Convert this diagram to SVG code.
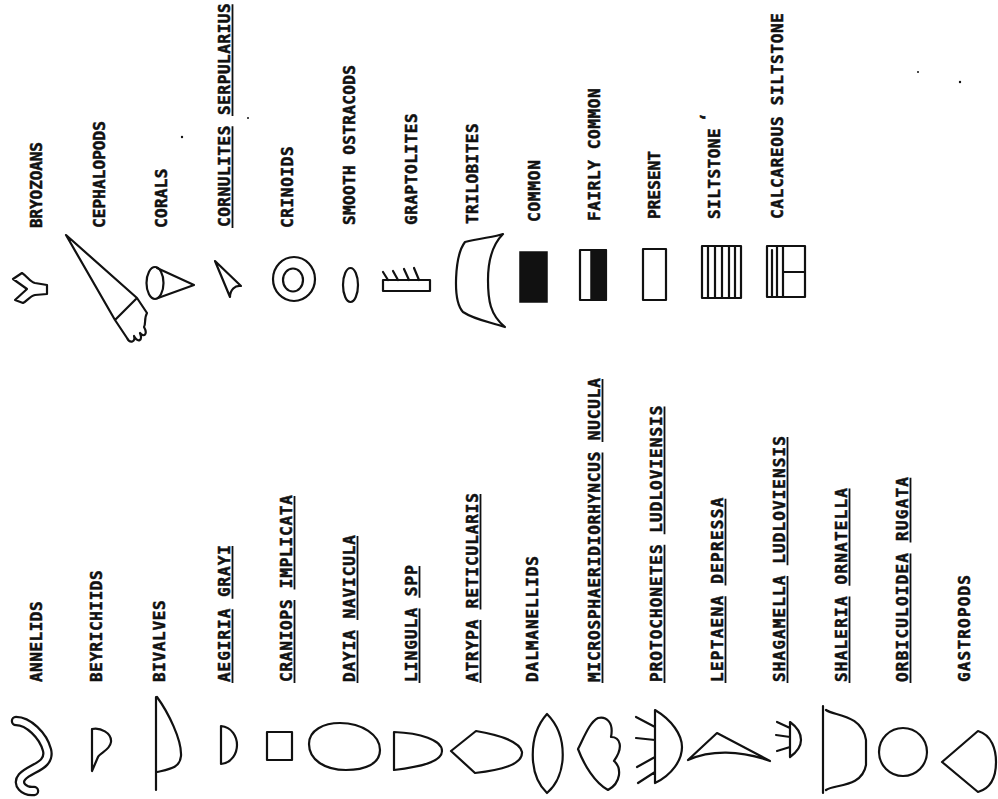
<svg xmlns="http://www.w3.org/2000/svg" width="998" height="799" viewBox="0 0 998 799">
  <style>
    .lbl { font-family: "DejaVu Sans Mono", "Liberation Mono", monospace; font-weight: bold; font-size: 16px; fill: #111; stroke: #111; stroke-width: 0.5; }
    .sym { fill: none; stroke: #111; stroke-width: 2.2; stroke-linejoin: round; stroke-linecap: round; }
    .ul { fill: none; stroke: #111; stroke-width: 1.8; }
    .solid { fill: #111; stroke: #111; stroke-width: 1.5; }
  </style>
  <rect width="998" height="799" fill="#fff"/>

  <!-- Left column: fossil groups and species (labels read bottom-to-top) -->
  <g id="annelids">
    <g transform="translate(42,682) rotate(-90)"><text class="lbl" textLength="80.6" lengthAdjust="spacing">ANNELIDS</text></g>
    <path d="M16,721 C28,721 43,735 47,750 C51,766 30,768 22,777 C16,784 24,792 34,791" fill="none" stroke="#111" stroke-width="10.5" stroke-linecap="round" stroke-linejoin="round"/>
    <path d="M16,721 C28,721 43,735 47,750 C51,766 30,768 22,777 C16,784 24,792 34,791" fill="none" stroke="#fff" stroke-width="6" stroke-linecap="round" stroke-linejoin="round"/>
  </g>
  <g id="beyrichiids">
    <g transform="translate(102,682) rotate(-90)"><text class="lbl" textLength="111.7" lengthAdjust="spacing">BEYRICHIIDS</text></g>
    <path class="sym" d="M92,729 C100,727 112,733 111,742 C110,750 100,753 98,757 L92,771 Z"/>
  </g>
  <g id="bivalves">
    <g transform="translate(165,682) rotate(-90)"><text class="lbl" textLength="81.6" lengthAdjust="spacing">BIVALVES</text></g>
    <path class="sym" d="M157,697 C168,712 182,740 181,756 C180,768 170,769 157,772 M156,697 L156,790"/>
  </g>
  <g id="aegiria-grayi">
    <g transform="translate(230,682) rotate(-90)"><text class="lbl" textLength="137" lengthAdjust="spacing">AEGIRIA GRAYI</text>
      <path class="ul" d="M-1,2.5H72.8 M83.3,2.5H136"/></g>
    <path class="sym" d="M221,726 C232,727 237,737 237,745 C237,753 232,763 221,764 Z"/>
  </g>
  <g id="craniops-implicata">
    <g transform="translate(292,682) rotate(-90)"><text class="lbl" textLength="186.9" lengthAdjust="spacing">CRANIOPS IMPLICATA</text>
      <path class="ul" d="M-1,2.5H82 M92.4,2.5H186"/></g>
    <rect class="sym" x="267" y="732" width="25" height="28"/>
  </g>
  <g id="dayia-navicula">
    <g transform="translate(355,682) rotate(-90)"><text class="lbl" textLength="147" lengthAdjust="spacing">DAYIA NAVICULA</text>
      <path class="ul" d="M-1,2.5H51.5 M62,2.5H146"/></g>
    <path class="sym" d="M309,744 C309,730 324,723 340,723 C362,723 380,735 380,750 C380,764 365,770 346,770 C325,770 309,760 309,744 Z"/>
  </g>
  <g id="lingula-spp">
    <g transform="translate(417,682) rotate(-90)"><text class="lbl" textLength="117" lengthAdjust="spacing">LINGULA SPP</text>
      <path class="ul" d="M-1,2.5H73.5 M84.2,2.5H116"/></g>
    <path class="sym" d="M394,732 C420,733 442,740 442,751 C442,762 420,767 394,770 Z"/>
  </g>
  <g id="atrypa-reticularis">
    <g transform="translate(478,682) rotate(-90)"><text class="lbl" textLength="189" lengthAdjust="spacing">ATRYPA RETICULARIS</text>
      <path class="ul" d="M-1,2.5H62 M72.5,2.5H188"/></g>
    <path class="sym" d="M451,751 L476,731 C500,735 520,742 522,752 C523,765 500,770 475,773 Z"/>
  </g>
  <g id="dalmanellids">
    <g transform="translate(538,682) rotate(-90)"><text class="lbl" textLength="126" lengthAdjust="spacing">DALMANELLIDS</text></g>
    <path class="sym" d="M547,714 C528,735 528,775 547,793 C568,775 568,735 547,714 Z"/>
  </g>
  <g id="microsphaeridiorhyncus-nucula">
    <g transform="translate(600,682) rotate(-90)"><text class="lbl" textLength="304" lengthAdjust="spacing">MICROSPHAERIDIORHYNCUS NUCULA</text>
      <path class="ul" d="M-1,2.5H229.6 M240,2.5H303"/></g>
    <path class="sym" d="M578,749 C585,735 590,722 598,718 C606,716 614,722 611,737 C620,737 624,747 614,761 C622,768 621,783 608,790 C595,783 584,765 578,749 Z"/>
  </g>
  <g id="protochonetes-ludloviensis">
    <g transform="translate(662,682) rotate(-90)"><text class="lbl" textLength="276.4" lengthAdjust="spacing">PROTOCHONETES LUDLOVIENSIS</text>
      <path class="ul" d="M-1,2.5H137.2 M147.8,2.5H275.4"/></g>
    <path class="sym" d="M655,710 C672,720 682,735 682,747 C682,760 672,775 655,783 Z M655,727 L636,717 M655,740 L636,738 M655,757 L637,767 M655,772 L638,783"/>
  </g>
  <g id="leptaena-depressa">
    <g transform="translate(723,682) rotate(-90)"><text class="lbl" textLength="184.3" lengthAdjust="spacing">LEPTAENA DEPRESSA</text>
      <path class="ul" d="M-1,2.5H85.7 M96.6,2.5H183.3"/></g>
    <path class="sym" d="M688,760 L717,733 L770,761 C740,750 710,750 688,760 Z"/>
  </g>
  <g id="shagamella-ludloviensis">
    <g transform="translate(785,682) rotate(-90)"><text class="lbl" textLength="246" lengthAdjust="spacing">SHAGAMELLA LUDLOVIENSIS</text>
      <path class="ul" d="M-1,2.5H106 M116.7,2.5H245"/></g>
    <path class="sym" d="M790,722 C797,727 801,734 801,740 C801,746 797,752 790,757 Z M790,728 L777,722 M790,737 L776,735 M790,747 L777,751"/>
  </g>
  <g id="shaleria-ornatella">
    <g transform="translate(847,682) rotate(-90)"><text class="lbl" textLength="194" lengthAdjust="spacing">SHALERIA ORNATELLA</text>
      <path class="ul" d="M-1,2.5H85.4 M96.2,2.5H193.4"/></g>
    <path class="sym" d="M823,706 L823,793 M826,710 C834,716 862,714 866,740 L866,765 C862,788 834,784 826,790"/>
  </g>
  <g id="orbiculoidea-rugata">
    <g transform="translate(908,682) rotate(-90)"><text class="lbl" textLength="205" lengthAdjust="spacing">ORBICULOIDEA RUGATA</text>
      <path class="ul" d="M-1,2.5H128.6 M139.4,2.5H204.2"/></g>
    <circle class="sym" cx="903" cy="752" r="24"/>
  </g>
  <g id="gastropods">
    <g transform="translate(970,682) rotate(-90)"><text class="lbl" textLength="107" lengthAdjust="spacing">GASTROPODS</text></g>
    <path class="sym" d="M942,762 L978,731 C992,735 996,750 996,762 C996,775 992,788 978,792 Z"/>
  </g>

  <!-- Right column: remaining fossil groups, abundance and lithology keys -->
  <g id="bryozoans">
    <g transform="translate(42,228) rotate(-90)"><text class="lbl" textLength="86" lengthAdjust="spacing">BRYOZOANS</text></g>
    <path class="sym" d="M13,279 L22,273 C27,276 30,282 35,283 L47,285 L47,294 L35,295 C30,296 27,301 23,303 L15,300 L27,289 Z"/>
  </g>
  <g id="cephalopods">
    <g transform="translate(105,228) rotate(-90)"><text class="lbl" textLength="107" lengthAdjust="spacing">CEPHALOPODS</text></g>
    <path class="sym" d="M66,235 L137,298 L115,320 Z M137,298 L147,313 C144,318 146,324 144,327 C148,334 144,338 140,333 C143,341 138,343 134,336 C136,342 130,344 127,338 L115,320"/>
  </g>
  <g id="corals">
    <g transform="translate(167,228) rotate(-90)"><text class="lbl" textLength="59.4" lengthAdjust="spacing">CORALS</text></g>
    <ellipse class="sym" cx="155" cy="283" rx="8.5" ry="16"/>
    <path class="sym" d="M157,268 L194,285 L158,298"/>
  </g>
  <g id="cornulites-serpularius">
    <g transform="translate(230,227) rotate(-90)"><text class="lbl" textLength="223.7" lengthAdjust="spacing">CORNULITES SERPULARIUS</text>
      <path class="ul" d="M-1,2.5H100.7 M110.9,2.5H222.7"/></g>
    <path class="sym" d="M215,261 L241,286 C235,285 230,290 230,297 Z"/>
  </g>
  <g id="crinoids">
    <g transform="translate(293,228) rotate(-90)"><text class="lbl" textLength="81.7" lengthAdjust="spacing">CRINOIDS</text></g>
    <ellipse class="sym" cx="294" cy="279" rx="21" ry="22"/>
    <ellipse class="sym" cx="293" cy="280" rx="10" ry="11.5"/>
  </g>
  <g id="smooth-ostracods">
    <g transform="translate(355,225) rotate(-90)"><text class="lbl" textLength="160" lengthAdjust="spacing">SMOOTH OSTRACODS</text></g>
    <ellipse class="sym" cx="350.5" cy="285" rx="7.5" ry="17"/>
  </g>
  <g id="graptolites">
    <g transform="translate(417,225) rotate(-90)"><text class="lbl" textLength="111.6" lengthAdjust="spacing">GRAPTOLITES</text></g>
    <rect class="sym" x="383" y="280" width="47" height="11"/>
    <path class="sym" d="M383,272 L388,280 M393,271 L398,280 M404,269 L409,280 M414,268 L419,280"/>
  </g>
  <g id="trilobites">
    <g transform="translate(478,224) rotate(-90)"><text class="lbl" textLength="100.6" lengthAdjust="spacing">TRILOBITES</text></g>
    <path class="sym" d="M503,234 C495,237 480,238 465,242 C455,255 452,300 463,312 C475,320 490,322 505,327 C490,315 488,300 488,280 C488,260 492,245 503,234 Z"/>
  </g>
  <g id="common">
    <g transform="translate(540,222) rotate(-90)"><text class="lbl" textLength="61.8" lengthAdjust="spacing">COMMON</text></g>
    <rect class="solid" x="520" y="252" width="27" height="50"/>
  </g>
  <g id="fairly-common">
    <g transform="translate(600,221) rotate(-90)"><text class="lbl" textLength="132.7" lengthAdjust="spacing">FAIRLY COMMON</text></g>
    <rect class="solid" x="591" y="250" width="15" height="50"/>
    <rect class="sym" x="580" y="250" width="26" height="50"/>
  </g>
  <g id="present">
    <g transform="translate(660,219) rotate(-90)"><text class="lbl" textLength="68" lengthAdjust="spacing">PRESENT</text></g>
    <rect class="sym" x="643" y="249" width="23" height="51"/>
  </g>
  <g id="siltstone">
    <g transform="translate(720,219) rotate(-90)"><text class="lbl" textLength="90.6" lengthAdjust="spacing">SILTSTONE</text>
      <text class="lbl" x="97" y="-8" font-size="11">‘</text></g>
    <rect class="sym" x="702" y="246" width="39" height="52"/>
    <path class="sym" d="M708,246 V298 M715,246 V298 M722,246 V298 M729,246 V298 M735,246 V298"/>
  </g>
  <g id="calcareous-siltstone">
    <g transform="translate(783,219) rotate(-90)"><text class="lbl" textLength="206" lengthAdjust="spacing">CALCAREOUS SILTSTONE</text></g>
    <rect class="sym" x="767" y="246" width="38" height="51"/>
    <path class="sym" d="M772,250 V297 M777,246 V297 M783,246 V297 M783,272 H805"/>
  </g>

  <!-- specks on the sheet -->
  <g id="specks" fill="#111">
    <circle cx="182" cy="137" r="1.2"/>
    <circle cx="248" cy="118" r="1"/>
    <circle cx="918" cy="72" r="1"/>
    <circle cx="960" cy="82" r="1.2"/>
  </g>
</svg>
